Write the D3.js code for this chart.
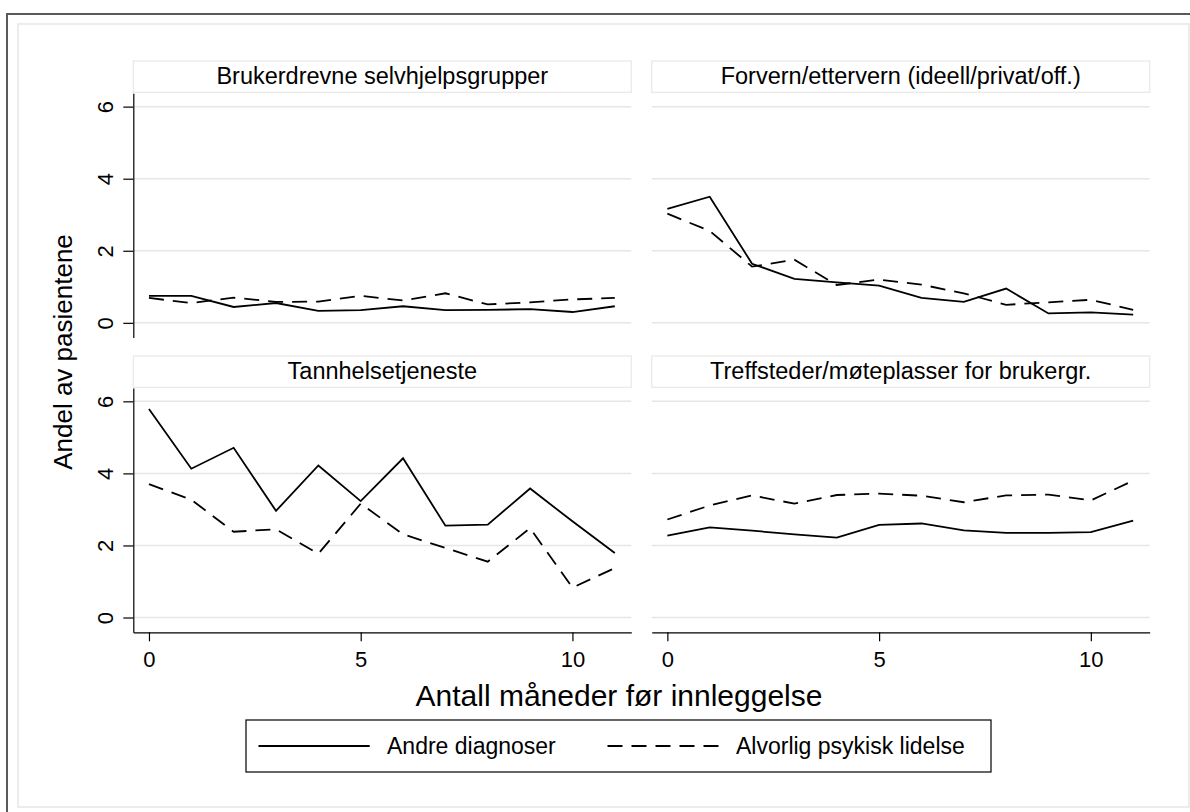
<!DOCTYPE html>
<html>
<head>
<meta charset="utf-8">
<script src="https://cdn.jsdelivr.net/npm/d3@7"></script>
<style>
body { margin: 0; background: #fff; }
svg { font-family: "Liberation Sans", Arial, Helvetica, sans-serif; }
.grid line { stroke: #e6e6e6; stroke-width: 1.5px; }
.axis path, .axis line { stroke: #000; stroke-width: 1.2px; }
.axis text { font-size: 22px; fill: #000; font-family: "Liberation Sans", Arial, sans-serif; }
.series { fill: none; stroke: #000; stroke-width: 1.8px; }
.dashed { stroke-dasharray: 15,9; }
.strip rect { fill: #fff; stroke: #e8e8e8; stroke-width: 1.2px; }
.strip text { font-size: 23.5px; text-anchor: middle; }
</style>
</head>
<body>
<svg width="1190" height="812"></svg>
<script>

// data
var months = [0, 1, 2, 3, 4, 5, 6, 7, 8, 9, 10, 11];

var panelTitles = [
  "Brukerdrevne selvhjelpsgrupper",
  "Forvern/ettervern (ideell/privat/off.)",
  "Tannhelsetjeneste",
  "Treffsteder/møteplasser for brukergr."
];

var seriesNames = ["Andre diagnoser", "Alvorlig psykisk lidelse"];

var brukerAndre    = [0.75, 0.75, 0.44, 0.55, 0.33, 0.35, 0.46, 0.35, 0.36, 0.38, 0.30, 0.46];
var brukerAlvorlig = [0.69, 0.55, 0.70, 0.58, 0.59, 0.75, 0.62, 0.82, 0.51, 0.57, 0.65, 0.69];

var forvernAndre    = [3.16, 3.50, 1.64, 1.22, 1.12, 1.03, 0.69, 0.58, 0.95, 0.26, 0.29, 0.23];
var forvernAlvorlig = [3.03, 2.55, 1.56, 1.75, 1.05, 1.20, 1.06, 0.82, 0.50, 0.57, 0.64, 0.36];

var tannAndre    = [5.79, 4.13, 4.71, 2.96, 4.22, 3.23, 4.42, 2.55, 2.58, 3.58, 2.67, 1.79];
var tannAlvorlig = [3.70, 3.27, 2.38, 2.45, 1.77, 3.16, 2.31, 1.93, 1.55, 2.48, 0.83, 1.37];

var treffAndre    = [2.27, 2.50, 2.41, 2.31, 2.22, 2.57, 2.61, 2.42, 2.35, 2.35, 2.37, 2.69];
var treffAlvorlig = [2.72, 3.11, 3.39, 3.16, 3.40, 3.44, 3.38, 3.20, 3.39, 3.41, 3.25, 3.80];

var yTicks = [0, 2, 4, 6];
var xTicks = [0, 5, 10];

var panelData = [
  [brukerAndre, brukerAlvorlig],
  [forvernAndre, forvernAlvorlig],
  [tannAndre, tannAlvorlig],
  [treffAndre, treffAlvorlig]
];

var svg = d3.select("svg");

// frames
svg.append("rect").attr("x", 7).attr("y", 14).attr("width", 1200).attr("height", 820)
  .attr("fill", "#fff").attr("stroke", "#5a5a5a").attr("stroke-width", 2);
svg.append("rect").attr("x", 18).attr("y", 24).attr("width", 1171).attr("height", 783)
  .attr("fill", "#fff").attr("stroke", "#ececec").attr("stroke-width", 2);

var colX = [133.3, 651.7],
    pw = 498,
    rowStrip = [61, 356],
    stripH = 31.3,
    rowPlot = [93.3, 388],
    ph = 244.3;

var x = d3.scaleLinear().domain([-0.37, 11.39]).range([0, pw]);
var y = d3.scaleLinear().domain([-0.41, 6.37]).range([ph, 0]);

var line = d3.line()
  .x(function(d, i) { return x(months[i]); })
  .y(function(d) { return y(d); });

panelData.forEach(function(series, p) {
  var col = p % 2, row = Math.floor(p / 2);

  var strip = svg.append("g").attr("class", "strip")
    .attr("transform", "translate(" + colX[col] + "," + rowStrip[row] + ")");
  strip.append("rect").attr("width", pw).attr("height", stripH);
  strip.append("text").attr("x", pw / 2).attr("y", 23.4).text(panelTitles[p]);

  var g = svg.append("g")
    .attr("transform", "translate(" + colX[col] + "," + rowPlot[row] + ")");

  g.append("g").attr("class", "grid")
    .selectAll("line").data(yTicks).enter().append("line")
    .attr("x1", 0).attr("x2", pw)
    .attr("y1", function(d) { return y(d); })
    .attr("y2", function(d) { return y(d); });

  if (col === 0) {
    var ax = g.append("g").attr("class", "axis")
      .call(d3.axisLeft(y).tickValues(yTicks).tickFormat(d3.format("d"))
        .tickSize(10).tickSizeOuter(0));
    ax.selectAll("text")
      .attr("x", null).attr("dy", null)
      .attr("text-anchor", "middle")
      .attr("transform", "translate(-20.3,0) rotate(-90)");
  }
  if (row === 1) {
    g.append("g").attr("class", "axis")
      .attr("transform", "translate(0," + ph + ")")
      .call(d3.axisBottom(x).tickValues(xTicks).tickFormat(d3.format("d"))
        .tickSize(9).tickSizeOuter(0).tickPadding(10));
  }

  series.forEach(function(vals, s) {
    g.append("path").datum(vals)
      .attr("class", s === 1 ? "series dashed" : "series")
      .attr("d", line);
  });
});

// axis titles
svg.append("text")
  .attr("transform", "translate(72,352) rotate(-90)")
  .attr("text-anchor", "middle")
  .attr("font-size", 26)
  .text("Andel av pasientene");

svg.append("text")
  .attr("x", 619).attr("y", 706)
  .attr("text-anchor", "middle")
  .attr("font-size", 30)
  .text("Antall måneder før innleggelse");

// legend
var leg = svg.append("g").attr("transform", "translate(246,720)");
leg.append("rect").attr("width", 745).attr("height", 52)
  .attr("fill", "#fff").attr("stroke", "#000").attr("stroke-width", 1.2);

var legX = [[12.5, 123.7, 141], [361.5, 472.7, 490]];
seriesNames.forEach(function(name, s) {
  leg.append("line")
    .attr("class", s === 1 ? "series dashed" : "series")
    .attr("x1", legX[s][0]).attr("x2", legX[s][1])
    .attr("y1", 26).attr("y2", 26);
  leg.append("text")
    .attr("x", legX[s][2]).attr("y", 34)
    .attr("font-size", 23)
    .text(name);
});

</script>
</body>
</html>
